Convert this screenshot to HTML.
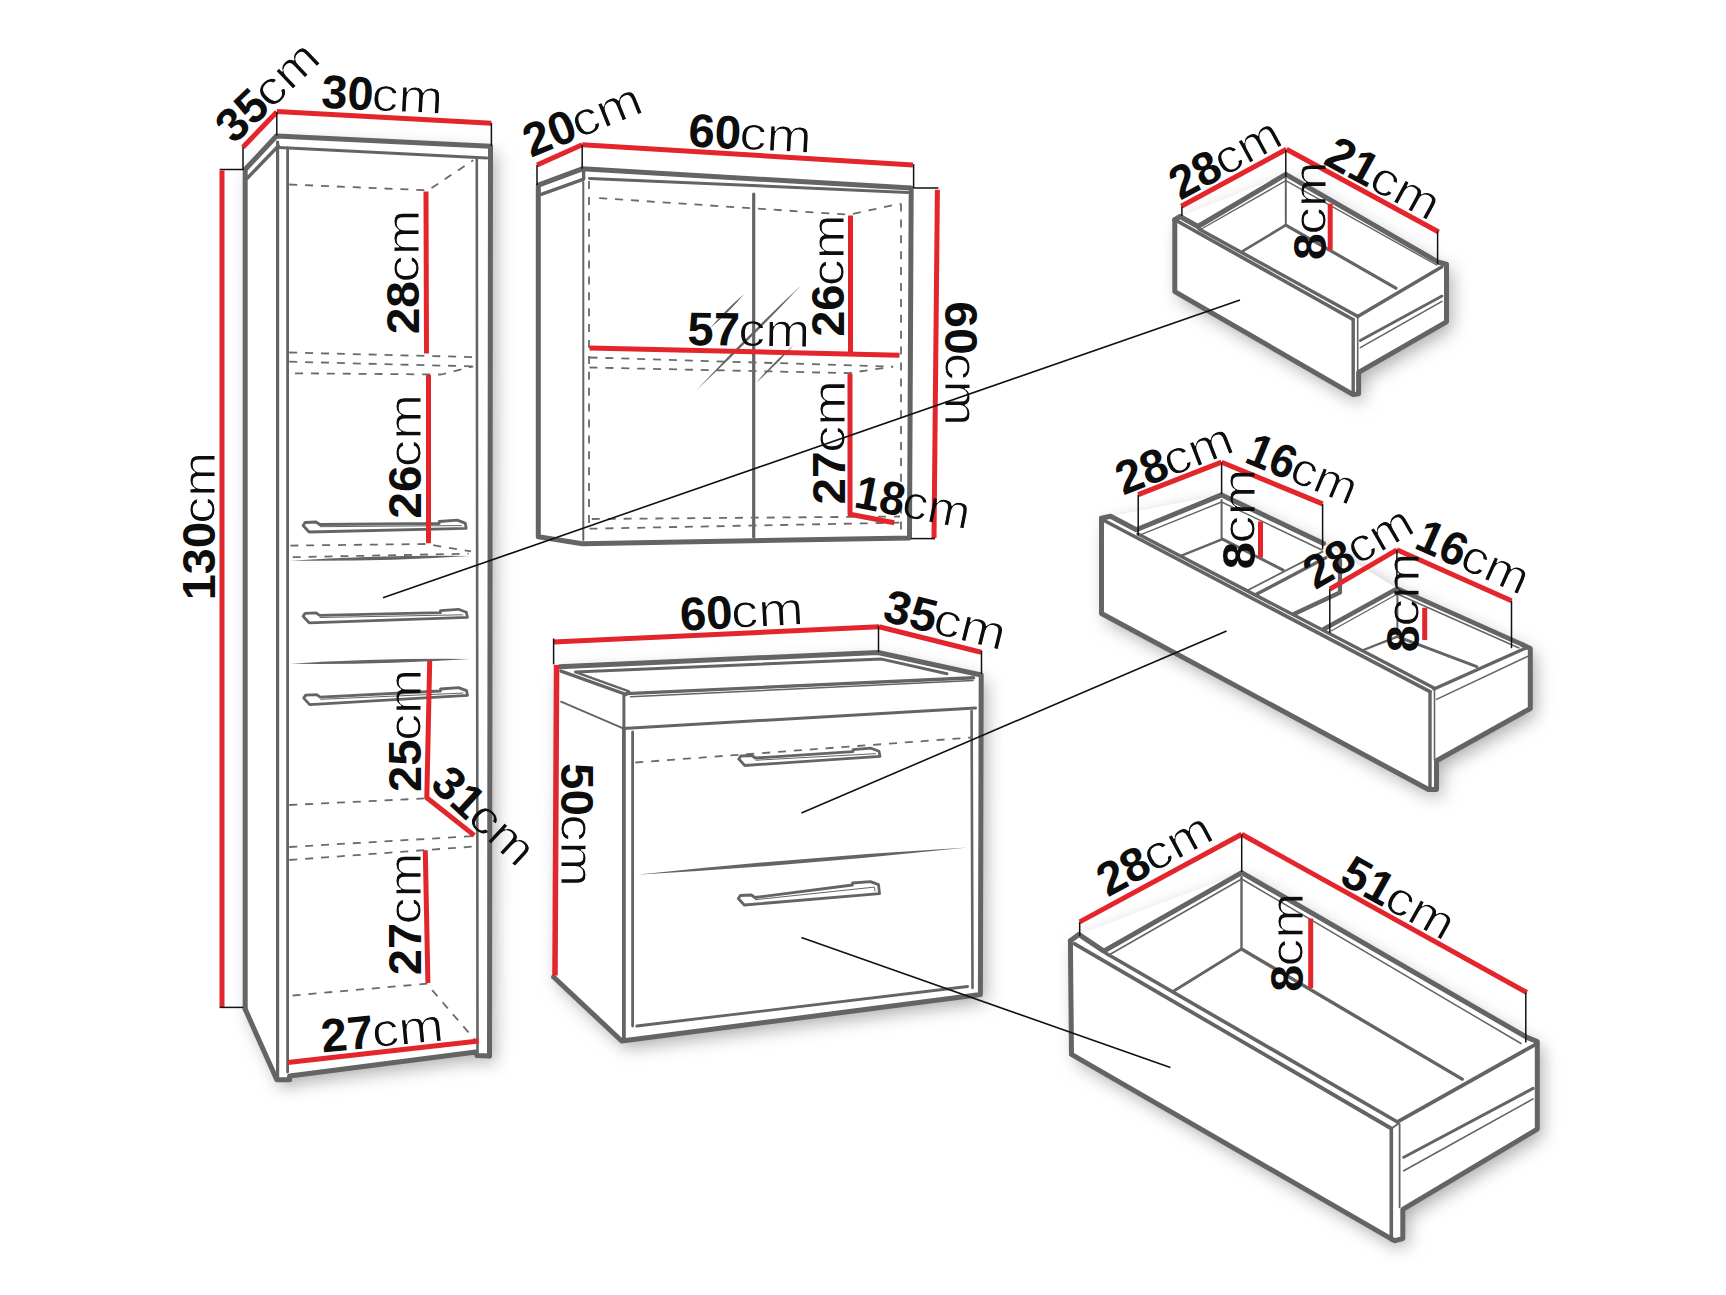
<!DOCTYPE html>
<html><head><meta charset="utf-8"><style>
html,body{margin:0;padding:0;background:#fff;}
svg{display:block;}
text{font-family:"Liberation Sans",sans-serif;}
</style></head><body>
<svg width="1726" height="1295" viewBox="0 0 1726 1295">
<defs><filter id="thin" x="-5%" y="-20%" width="110%" height="140%"><feMorphology operator="erode" radius="0.45"/></filter><filter id="sh" x="-20%" y="-20%" width="140%" height="140%"><feGaussianBlur stdDeviation="9"/><feOffset dx="5" dy="7"/></filter></defs>
<rect width="1726" height="1295" fill="#fff"/>
<g filter="url(#sh)" fill="#acacac">
<path d="M245.2,169.5 L276.4,136.0 L490.5,146.3 L489.5,1056.0 L477.0,1055.6 L475.8,1052.0 L289.6,1076.0 L289.6,1079.8 L276.8,1079.8 L245.3,1009.3 Z" fill="#acacac" />
<path d="M556.0,667.0 L878.0,652.5 L981.2,675.0 L980.4,994.6 L621.7,1041.0 L553.6,977.0 Z" fill="#acacac" />
<path d="M1174.8,219.7 L1180.1,216.5 L1285.8,174.4 L1438.5,262.3 L1446.5,264.1 L1446.5,321.8 L1358.6,372.4 L1358.6,393.8 L1353.2,394.6 L1174.8,291.6 Z" fill="#acacac" />
<path d="M1101.5,518.2 L1110.6,516.2 L1221.6,494.7 L1324.4,543.8 L1397.4,588.6 L1522.5,644.7 L1530.3,648.6 L1530.3,708.5 L1436.5,760.7 L1436.5,789.4 L1428.5,789.5 L1101.5,613.5 Z" fill="#acacac" />
<path d="M1070.4,940.7 L1078.8,934.4 L1241.7,872.6 L1526.8,1037.4 L1537.3,1041.5 L1537.3,1129.1 L1402.8,1209.4 L1402.8,1238.6 L1394.4,1240.7 L1071.5,1054.4 Z" fill="#acacac" />
</g>
<path d="M245.2,169.5 L276.4,136.0 L490.5,146.3 L489.5,1056.0 L477.0,1055.6 L475.8,1052.0 L289.6,1076.0 L289.6,1079.8 L276.8,1079.8 L245.3,1009.3 Z" fill="#fff" />
<path d="M556.0,667.0 L878.0,652.5 L981.2,675.0 L980.4,994.6 L621.7,1041.0 L553.6,977.0 Z" fill="#fff" />
<path d="M1174.8,219.7 L1180.1,216.5 L1285.8,174.4 L1438.5,262.3 L1446.5,264.1 L1446.5,321.8 L1358.6,372.4 L1358.6,393.8 L1353.2,394.6 L1174.8,291.6 Z" fill="#fff" />
<path d="M1101.5,518.2 L1110.6,516.2 L1221.6,494.7 L1324.4,543.8 L1397.4,588.6 L1522.5,644.7 L1530.3,648.6 L1530.3,708.5 L1436.5,760.7 L1436.5,789.4 L1428.5,789.5 L1101.5,613.5 Z" fill="#fff" />
<path d="M1070.4,940.7 L1078.8,934.4 L1241.7,872.6 L1526.8,1037.4 L1537.3,1041.5 L1537.3,1129.1 L1402.8,1209.4 L1402.8,1238.6 L1394.4,1240.7 L1071.5,1054.4 Z" fill="#fff" />
<path d="M245.2,1009.3 L245.2,169.5 L276.4,136.0 L490.5,146.3 L489.5,1056.0" fill="none" stroke="#646464" stroke-width="5" stroke-linecap="round" stroke-linejoin="round"/>
<path d="M245.3,1009.3 L276.8,1079.8 L289.6,1079.8 L289.6,1076.0 L475.8,1052.0 L477.0,1055.6 L489.5,1056.0" fill="none" stroke="#646464" stroke-width="5" stroke-linecap="round" stroke-linejoin="round"/>
<path d="M247.5,178.0 L278.3,146.0" fill="none" stroke="#646464" stroke-width="3.4" stroke-linecap="round" stroke-linejoin="round"/>
<path d="M278.8,147.5 L487.0,158.0" fill="none" stroke="#646464" stroke-width="3" stroke-linecap="round" stroke-linejoin="round"/>
<path d="M277.6,142.0 L277.6,1077.0" fill="none" stroke="#646464" stroke-width="3.2" stroke-linecap="round" stroke-linejoin="round"/>
<path d="M287.6,148.0 L287.6,1072.0" fill="none" stroke="#646464" stroke-width="2.8" stroke-linecap="round" stroke-linejoin="round"/>
<path d="M476.8,158.0 L477.5,1052.0" fill="none" stroke="#646464" stroke-width="2.6" stroke-linecap="round" stroke-linejoin="round"/>
<path d="M289.2,184.5 L428.2,190.3 L473.3,160.2" fill="none" stroke="#6a6a6a" stroke-width="1.8" stroke-linecap="butt" stroke-linejoin="round" stroke-dasharray="8 7.9"/>
<path d="M289.2,352.5 L473.3,357.1" fill="none" stroke="#6a6a6a" stroke-width="1.8" stroke-linecap="butt" stroke-linejoin="round" stroke-dasharray="8 7.9"/>
<path d="M289.2,361.7 L473.3,366.4" fill="none" stroke="#6a6a6a" stroke-width="1.8" stroke-linecap="butt" stroke-linejoin="round" stroke-dasharray="8 7.9"/>
<path d="M295.0,373.3 L441.0,374.5 L473.3,366.4" fill="none" stroke="#6a6a6a" stroke-width="1.8" stroke-linecap="butt" stroke-linejoin="round" stroke-dasharray="8 7.9"/>
<path d="M290.3,545.6 L425.8,544.0 L471.0,551.4" fill="none" stroke="#6a6a6a" stroke-width="1.8" stroke-linecap="butt" stroke-linejoin="round" stroke-dasharray="8 7.9"/>
<path d="M292.7,557.2 L468.7,553.7" fill="none" stroke="#6a6a6a" stroke-width="1.8" stroke-linecap="butt" stroke-linejoin="round" stroke-dasharray="8 7.9"/>
<path d="M290.3,560.7 Q380.2,561.7 469.9,556.0 Q380.0,555.0 290.3,560.7 Z" fill="#646464"/>
<path d="M290.3,663.8 Q380.2,664.8 469.9,659.0 Q380.0,658.0 290.3,663.8 Z" fill="#646464"/>
<path d="M289.3,805.0 L425.8,798.4" fill="none" stroke="#6a6a6a" stroke-width="1.8" stroke-linecap="butt" stroke-linejoin="round" stroke-dasharray="8 7.9"/>
<path d="M289.3,847.0 L475.7,836.0" fill="none" stroke="#6a6a6a" stroke-width="1.8" stroke-linecap="butt" stroke-linejoin="round" stroke-dasharray="8 7.9"/>
<path d="M289.3,860.0 L475.7,846.4" fill="none" stroke="#6a6a6a" stroke-width="1.8" stroke-linecap="butt" stroke-linejoin="round" stroke-dasharray="8 7.9"/>
<path d="M292.6,995.5 L426.6,983.7 L475.8,1040.9" fill="none" stroke="#6a6a6a" stroke-width="1.8" stroke-linecap="butt" stroke-linejoin="round" stroke-dasharray="8 7.9"/>
<path d="M303.1,525.5 L305.1,522.5 L316.1,522.0 L319.6,524.5 L439.2,523.5 L439.2,521.5 L457.2,520.1 L465.2,523.1 L466.2,528.3 L309.1,532.0 L303.1,525.5" fill="none" stroke="#646464" stroke-width="2.8" stroke-linecap="round" stroke-linejoin="round"/>
<path d="M320.1,526.7 L461.2,525.6 L461.7,525.8" fill="none" stroke="#646464" stroke-width="1.0" stroke-linecap="round" stroke-linejoin="round"/>
<path d="M303.1,616.3 L305.1,613.3 L316.1,612.8 L319.6,615.3 L440.4,612.7 L440.4,610.7 L458.4,609.3 L466.4,612.3 L467.4,617.4 L309.1,622.8 L303.1,616.3" fill="none" stroke="#646464" stroke-width="2.8" stroke-linecap="round" stroke-linejoin="round"/>
<path d="M320.1,617.5 L462.4,614.8 L462.9,614.9" fill="none" stroke="#646464" stroke-width="1.0" stroke-linecap="round" stroke-linejoin="round"/>
<path d="M303.7,698.1 L305.7,695.1 L316.7,694.6 L320.2,697.1 L440.5,691.0 L440.5,689.0 L458.5,687.6 L466.5,690.6 L467.5,695.4 L309.7,704.6 L303.7,698.1" fill="none" stroke="#646464" stroke-width="2.8" stroke-linecap="round" stroke-linejoin="round"/>
<path d="M320.7,699.3 L462.5,693.1 L463.0,692.9" fill="none" stroke="#646464" stroke-width="1.0" stroke-linecap="round" stroke-linejoin="round"/>
<path d="M222.0,170.5 L222.0,1007.4" fill="none" stroke="#e3252c" stroke-width="5" stroke-linecap="butt" stroke-linejoin="round"/>
<path d="M242.9,147.2 L276.8,112.0" fill="none" stroke="#e3252c" stroke-width="5" stroke-linecap="butt" stroke-linejoin="round"/>
<path d="M276.8,111.5 L491.4,123.2" fill="none" stroke="#e3252c" stroke-width="5" stroke-linecap="butt" stroke-linejoin="round"/>
<path d="M426.0,191.5 L426.5,353.6" fill="none" stroke="#e3252c" stroke-width="5" stroke-linecap="butt" stroke-linejoin="round"/>
<path d="M428.5,375.0 L428.5,543.3" fill="none" stroke="#e3252c" stroke-width="5" stroke-linecap="butt" stroke-linejoin="round"/>
<path d="M429.7,661.0 L426.8,797.8 L474.3,835.4" fill="none" stroke="#e3252c" stroke-width="5" stroke-linecap="butt" stroke-linejoin="round"/>
<path d="M425.3,850.3 L427.9,983.0" fill="none" stroke="#e3252c" stroke-width="5" stroke-linecap="butt" stroke-linejoin="round"/>
<path d="M287.7,1062.5 L478.8,1040.9" fill="none" stroke="#e3252c" stroke-width="5" stroke-linecap="butt" stroke-linejoin="round"/>
<path d="M219.7,169.5 L243.5,169.5" fill="none" stroke="#111" stroke-width="1.5" stroke-linecap="butt" stroke-linejoin="round"/>
<path d="M243.0,147.0 L243.0,169.5" fill="none" stroke="#111" stroke-width="1.5" stroke-linecap="butt" stroke-linejoin="round"/>
<path d="M276.8,112.0 L276.8,135.5" fill="none" stroke="#111" stroke-width="1.5" stroke-linecap="butt" stroke-linejoin="round"/>
<path d="M491.4,123.0 L491.4,146.0" fill="none" stroke="#111" stroke-width="1.5" stroke-linecap="butt" stroke-linejoin="round"/>
<path d="M219.7,1007.4 L243.3,1007.4" fill="none" stroke="#111" stroke-width="1.5" stroke-linecap="butt" stroke-linejoin="round"/>
<path d="M538.3,536.8 L538.3,185.2 L582.2,168.8 L911.2,188.0 L909.5,538.0 L582.5,543.8 L538.3,536.8" fill="none" stroke="#646464" stroke-width="5" stroke-linecap="round" stroke-linejoin="round"/>
<path d="M541.2,194.3 L583.7,179.1 L583.5,169.5" fill="none" stroke="#646464" stroke-width="3.4" stroke-linecap="round" stroke-linejoin="round"/>
<path d="M589.5,178.5 L908.0,192.4" fill="none" stroke="#646464" stroke-width="3" stroke-linecap="round" stroke-linejoin="round"/>
<path d="M583.3,182.0 L583.3,540.0" fill="none" stroke="#646464" stroke-width="2.0" stroke-linecap="round" stroke-linejoin="round"/>
<path d="M753.7,194.0 L753.7,537.0" fill="none" stroke="#646464" stroke-width="3.2" stroke-linecap="round" stroke-linejoin="round"/>
<path d="M589.0,181.0 L589.0,530.0" fill="none" stroke="#6a6a6a" stroke-width="1.8" stroke-linecap="butt" stroke-linejoin="round" stroke-dasharray="8 7.9"/>
<path d="M901.0,203.5 L901.0,533.0" fill="none" stroke="#6a6a6a" stroke-width="1.8" stroke-linecap="butt" stroke-linejoin="round" stroke-dasharray="8 7.9"/>
<path d="M599.2,198.1 L848.6,214.7 L900.5,203.6" fill="none" stroke="#6a6a6a" stroke-width="1.8" stroke-linecap="butt" stroke-linejoin="round" stroke-dasharray="8 7.9"/>
<path d="M589.5,357.5 L893.1,366.6" fill="none" stroke="#6a6a6a" stroke-width="1.8" stroke-linecap="butt" stroke-linejoin="round" stroke-dasharray="8 7.9"/>
<path d="M589.5,367.5 L848.6,373.1 L893.1,366.6" fill="none" stroke="#6a6a6a" stroke-width="1.8" stroke-linecap="butt" stroke-linejoin="round" stroke-dasharray="8 7.9"/>
<path d="M591.8,519.0 L900.0,516.5" fill="none" stroke="#6a6a6a" stroke-width="1.8" stroke-linecap="butt" stroke-linejoin="round" stroke-dasharray="8 7.9"/>
<path d="M589.5,528.7 L899.3,522.7" fill="none" stroke="#6a6a6a" stroke-width="1.8" stroke-linecap="butt" stroke-linejoin="round" stroke-dasharray="8 7.9"/>
<path d="M710.1,328.2 Q728.7,312.7 744.2,294.1 Q725.6,309.6 710.1,328.2 Z" fill="#646464"/>
<path d="M696.1,390.4 Q750.6,339.6 801.4,285.1 Q746.9,335.9 696.1,390.4 Z" fill="#646464"/>
<path d="M756.3,382.4 Q776.9,364.9 794.4,344.3 Q773.8,361.8 756.3,382.4 Z" fill="#646464"/>
<path d="M537.0,165.0 L582.2,144.7" fill="none" stroke="#e3252c" stroke-width="5" stroke-linecap="butt" stroke-linejoin="round"/>
<path d="M582.2,144.7 L912.9,164.9" fill="none" stroke="#e3252c" stroke-width="5" stroke-linecap="butt" stroke-linejoin="round"/>
<path d="M937.4,189.7 L934.0,538.0" fill="none" stroke="#e3252c" stroke-width="5" stroke-linecap="butt" stroke-linejoin="round"/>
<path d="M850.5,215.5 L850.5,353.8" fill="none" stroke="#e3252c" stroke-width="5" stroke-linecap="butt" stroke-linejoin="round"/>
<path d="M589.5,348.0 L899.5,355.3" fill="none" stroke="#e3252c" stroke-width="5" stroke-linecap="butt" stroke-linejoin="round"/>
<path d="M850.0,373.5 L850.0,514.2 L894.2,522.7" fill="none" stroke="#e3252c" stroke-width="5" stroke-linecap="butt" stroke-linejoin="round"/>
<path d="M582.2,144.7 L582.2,168.8" fill="none" stroke="#111" stroke-width="1.5" stroke-linecap="butt" stroke-linejoin="round"/>
<path d="M537.0,165.0 L537.0,185.2" fill="none" stroke="#111" stroke-width="1.5" stroke-linecap="butt" stroke-linejoin="round"/>
<path d="M913.6,164.2 L913.6,188.0" fill="none" stroke="#111" stroke-width="1.5" stroke-linecap="butt" stroke-linejoin="round"/>
<path d="M913.6,188.0 L938.4,188.0" fill="none" stroke="#111" stroke-width="1.5" stroke-linecap="butt" stroke-linejoin="round"/>
<path d="M911.2,538.6 L935.0,538.6" fill="none" stroke="#111" stroke-width="1.5" stroke-linecap="butt" stroke-linejoin="round"/>
<path d="M559.5,666.8 L878.0,652.5 L981.2,675.0 L980.4,994.6 L621.7,1041.0 L553.6,977.0" fill="none" stroke="#646464" stroke-width="5" stroke-linecap="round" stroke-linejoin="round"/>
<path d="M575.4,671.9 L881.7,659.1 L947.0,673.7" fill="none" stroke="#646464" stroke-width="3" stroke-linecap="round" stroke-linejoin="round"/>
<path d="M561.0,671.1 L626.1,694.5" fill="none" stroke="#646464" stroke-width="3.4" stroke-linecap="round" stroke-linejoin="round"/>
<path d="M576.9,672.6 L629.0,691.4" fill="none" stroke="#646464" stroke-width="2.6" stroke-linecap="round" stroke-linejoin="round"/>
<path d="M626.1,693.6 L973.5,677.8" fill="none" stroke="#646464" stroke-width="3.4" stroke-linecap="round" stroke-linejoin="round"/>
<path d="M630.5,696.8 L973.0,680.5" fill="none" stroke="#646464" stroke-width="1.6" stroke-linecap="round" stroke-linejoin="round"/>
<path d="M623.9,695.0 L623.9,727.0" fill="none" stroke="#646464" stroke-width="3" stroke-linecap="round" stroke-linejoin="round"/>
<path d="M623.2,728.4 L975.5,708.1" fill="none" stroke="#646464" stroke-width="3" stroke-linecap="round" stroke-linejoin="round"/>
<path d="M561.0,701.6 L623.2,728.4" fill="none" stroke="#646464" stroke-width="1.8" stroke-linecap="round" stroke-linejoin="round"/>
<path d="M623.9,728.0 L623.9,1039.0" fill="none" stroke="#646464" stroke-width="3.8" stroke-linecap="round" stroke-linejoin="round"/>
<path d="M632.6,732.0 L632.6,1026.0" fill="none" stroke="#646464" stroke-width="2.8" stroke-linecap="round" stroke-linejoin="round"/>
<path d="M971.6,711.0 L972.5,988.0" fill="none" stroke="#646464" stroke-width="2.6" stroke-linecap="round" stroke-linejoin="round"/>
<path d="M636.7,1026.0 L967.6,986.5" fill="none" stroke="#646464" stroke-width="2.8" stroke-linecap="round" stroke-linejoin="round"/>
<path d="M636.7,874.8 Q802.5,865.4 967.6,847.6 Q801.8,857.0 636.7,874.8 Z" fill="#646464"/>
<path d="M635.3,762.5 L973.0,737.4" fill="none" stroke="#6a6a6a" stroke-width="1.8" stroke-linecap="butt" stroke-linejoin="round" stroke-dasharray="8 7.9"/>
<path d="M738.8,759.0 L740.8,756.0 L751.8,755.5 L755.3,758.0 L853.0,751.6 L853.0,749.6 L871.0,748.2 L879.0,751.2 L880.0,756.3 L744.8,765.5 L738.8,759.0" fill="none" stroke="#646464" stroke-width="2.8" stroke-linecap="round" stroke-linejoin="round"/>
<path d="M755.8,760.2 L875.0,753.7 L875.5,753.8" fill="none" stroke="#646464" stroke-width="1.0" stroke-linecap="round" stroke-linejoin="round"/>
<path d="M738.3,898.5 L740.3,895.5 L751.3,895.0 L754.8,897.5 L852.5,885.0 L852.5,883.0 L870.5,881.6 L878.5,884.6 L879.5,893.6 L744.3,905.0 L738.3,898.5" fill="none" stroke="#646464" stroke-width="2.8" stroke-linecap="round" stroke-linejoin="round"/>
<path d="M755.3,899.7 L874.5,887.1 L875.0,891.1" fill="none" stroke="#646464" stroke-width="1.0" stroke-linecap="round" stroke-linejoin="round"/>
<path d="M553.6,642.1 L879.0,626.8" fill="none" stroke="#e3252c" stroke-width="5" stroke-linecap="butt" stroke-linejoin="round"/>
<path d="M879.0,626.8 L981.2,652.2" fill="none" stroke="#e3252c" stroke-width="5" stroke-linecap="butt" stroke-linejoin="round"/>
<path d="M556.6,665.0 L555.0,975.6" fill="none" stroke="#e3252c" stroke-width="5.5" stroke-linecap="butt" stroke-linejoin="round"/>
<path d="M553.6,638.5 L553.6,664.4" fill="none" stroke="#111" stroke-width="1.5" stroke-linecap="butt" stroke-linejoin="round"/>
<path d="M878.5,626.0 L878.5,652.2" fill="none" stroke="#111" stroke-width="1.5" stroke-linecap="butt" stroke-linejoin="round"/>
<path d="M981.5,650.8 L981.5,674.0" fill="none" stroke="#111" stroke-width="1.5" stroke-linecap="butt" stroke-linejoin="round"/>
<path d="M1174.8,219.7 L1174.8,291.6 L1353.2,394.6 L1358.6,393.8 L1358.6,372.4 L1446.5,321.8 L1446.5,264.1 L1438.5,262.3" fill="none" stroke="#646464" stroke-width="5" stroke-linecap="round" stroke-linejoin="round"/>
<path d="M1174.8,219.7 L1180.1,216.5 L1197.9,226.5 L1285.8,174.4 L1438.5,262.3" fill="none" stroke="#646464" stroke-width="5" stroke-linecap="round" stroke-linejoin="round"/>
<path d="M1200.5,229.5 L1285.8,180.7 L1436.7,265.0" fill="none" stroke="#646464" stroke-width="1.4" stroke-linecap="round" stroke-linejoin="round"/>
<path d="M1178.0,221.5 L1353.0,319.5" fill="none" stroke="#646464" stroke-width="3.6" stroke-linecap="round" stroke-linejoin="round"/>
<path d="M1199.0,229.0 L1358.0,316.5" fill="none" stroke="#646464" stroke-width="3.4" stroke-linecap="round" stroke-linejoin="round"/>
<path d="M1353.2,319.5 L1353.2,393.0" fill="none" stroke="#646464" stroke-width="3.4" stroke-linecap="round" stroke-linejoin="round"/>
<path d="M1357.7,317.4 L1357.7,372.4" fill="none" stroke="#646464" stroke-width="1.6" stroke-linecap="round" stroke-linejoin="round"/>
<path d="M1357.7,316.5 L1442.0,266.8" fill="none" stroke="#646464" stroke-width="3.4" stroke-linecap="round" stroke-linejoin="round"/>
<path d="M1360.3,340.5 L1442.0,296.1" fill="none" stroke="#646464" stroke-width="2.8" stroke-linecap="round" stroke-linejoin="round"/>
<path d="M1360.3,347.6 L1442.0,301.4" fill="none" stroke="#646464" stroke-width="1.6" stroke-linecap="round" stroke-linejoin="round"/>
<path d="M1243.1,250.8 L1285.8,225.1" fill="none" stroke="#646464" stroke-width="2.6" stroke-linecap="round" stroke-linejoin="round"/>
<path d="M1285.8,225.1 L1395.9,288.1" fill="none" stroke="#646464" stroke-width="3.2" stroke-linecap="round" stroke-linejoin="round"/>
<path d="M1285.8,178.0 L1285.8,223.3" fill="none" stroke="#646464" stroke-width="2" stroke-linecap="round" stroke-linejoin="round"/>
<path d="M1181.3,206.3 L1286.5,149.2" fill="none" stroke="#e3252c" stroke-width="5" stroke-linecap="butt" stroke-linejoin="round"/>
<path d="M1286.5,149.2 L1438.7,232.0" fill="none" stroke="#e3252c" stroke-width="5" stroke-linecap="butt" stroke-linejoin="round"/>
<path d="M1330.2,203.7 L1330.2,249.9" fill="none" stroke="#e3252c" stroke-width="5" stroke-linecap="butt" stroke-linejoin="round"/>
<path d="M1181.9,206.4 L1181.9,216.0" fill="none" stroke="#111" stroke-width="1.5" stroke-linecap="butt" stroke-linejoin="round"/>
<path d="M1285.8,150.0 L1285.8,177.0" fill="none" stroke="#111" stroke-width="1.5" stroke-linecap="butt" stroke-linejoin="round"/>
<path d="M1437.6,231.3 L1437.6,264.0" fill="none" stroke="#111" stroke-width="1.5" stroke-linecap="butt" stroke-linejoin="round"/>
<path d="M1101.5,518.2 L1101.5,613.5 L1428.5,789.5 L1436.5,789.4 L1436.5,760.7 L1530.3,708.5 L1530.3,648.6 L1522.5,644.7" fill="none" stroke="#646464" stroke-width="5" stroke-linecap="round" stroke-linejoin="round"/>
<path d="M1101.5,518.2 L1110.6,516.2 L1136.3,529.7 L1221.6,494.9 L1323.6,543.5" fill="none" stroke="#646464" stroke-width="5" stroke-linecap="round" stroke-linejoin="round"/>
<path d="M1139.1,535.4 L1221.6,502.0 L1322.0,550.0" fill="none" stroke="#646464" stroke-width="1.4" stroke-linecap="round" stroke-linejoin="round"/>
<path d="M1105.0,521.0 L1430.0,691.6" fill="none" stroke="#646464" stroke-width="3.6" stroke-linecap="round" stroke-linejoin="round"/>
<path d="M1138.0,534.0 L1434.0,688.0" fill="none" stroke="#646464" stroke-width="3.4" stroke-linecap="round" stroke-linejoin="round"/>
<path d="M1430.0,691.6 L1430.0,790.0" fill="none" stroke="#646464" stroke-width="3.4" stroke-linecap="round" stroke-linejoin="round"/>
<path d="M1434.5,690.0 L1434.5,760.0" fill="none" stroke="#646464" stroke-width="1.6" stroke-linecap="round" stroke-linejoin="round"/>
<path d="M1434.0,689.0 L1526.0,648.0" fill="none" stroke="#646464" stroke-width="3.4" stroke-linecap="round" stroke-linejoin="round"/>
<path d="M1436.5,699.4 L1527.7,656.4" fill="none" stroke="#646464" stroke-width="1.6" stroke-linecap="round" stroke-linejoin="round"/>
<path d="M1180.8,555.8 L1222.5,539.1" fill="none" stroke="#646464" stroke-width="2.4" stroke-linecap="round" stroke-linejoin="round"/>
<path d="M1222.5,539.1 L1283.2,570.1" fill="none" stroke="#646464" stroke-width="3" stroke-linecap="round" stroke-linejoin="round"/>
<path d="M1221.6,500.0 L1221.6,539.0" fill="none" stroke="#646464" stroke-width="2" stroke-linecap="round" stroke-linejoin="round"/>
<path d="M1247.7,590.2 L1322.6,551.6" fill="none" stroke="#646464" stroke-width="1.8" stroke-linecap="round" stroke-linejoin="round"/>
<path d="M1255.4,594.8 L1325.7,557.8" fill="none" stroke="#646464" stroke-width="3.4" stroke-linecap="round" stroke-linejoin="round"/>
<path d="M1294.0,614.0 L1340.0,592.5 L1340.0,560.0" fill="none" stroke="#646464" stroke-width="4.2" stroke-linecap="round" stroke-linejoin="round"/>
<path d="M1324.0,629.0 L1397.4,588.6 L1522.5,644.7" fill="none" stroke="#646464" stroke-width="4.6" stroke-linecap="round" stroke-linejoin="round"/>
<path d="M1331.0,631.0 L1397.4,594.0 L1519.0,648.0" fill="none" stroke="#646464" stroke-width="1.4" stroke-linecap="round" stroke-linejoin="round"/>
<path d="M1362.2,650.5 L1397.4,636.6" fill="none" stroke="#646464" stroke-width="2.4" stroke-linecap="round" stroke-linejoin="round"/>
<path d="M1397.4,636.6 L1476.8,666.7" fill="none" stroke="#646464" stroke-width="3" stroke-linecap="round" stroke-linejoin="round"/>
<path d="M1397.4,594.0 L1397.4,636.0" fill="none" stroke="#646464" stroke-width="2" stroke-linecap="round" stroke-linejoin="round"/>
<path d="M1138.2,494.7 L1221.6,462.2" fill="none" stroke="#e3252c" stroke-width="5" stroke-linecap="butt" stroke-linejoin="round"/>
<path d="M1221.6,462.2 L1322.6,503.9" fill="none" stroke="#e3252c" stroke-width="5" stroke-linecap="butt" stroke-linejoin="round"/>
<path d="M1260.5,521.5 L1260.5,557.7" fill="none" stroke="#e3252c" stroke-width="5" stroke-linecap="butt" stroke-linejoin="round"/>
<path d="M1329.8,589.1 L1396.9,549.8" fill="none" stroke="#e3252c" stroke-width="5" stroke-linecap="butt" stroke-linejoin="round"/>
<path d="M1396.9,549.8 L1511.5,600.7" fill="none" stroke="#e3252c" stroke-width="5" stroke-linecap="butt" stroke-linejoin="round"/>
<path d="M1424.7,607.7 L1424.7,640.1" fill="none" stroke="#e3252c" stroke-width="5" stroke-linecap="butt" stroke-linejoin="round"/>
<path d="M1138.2,494.7 L1138.2,535.4" fill="none" stroke="#111" stroke-width="1.5" stroke-linecap="butt" stroke-linejoin="round"/>
<path d="M1221.6,462.2 L1221.6,494.0" fill="none" stroke="#111" stroke-width="1.5" stroke-linecap="butt" stroke-linejoin="round"/>
<path d="M1322.6,503.9 L1322.6,549.3" fill="none" stroke="#111" stroke-width="1.5" stroke-linecap="butt" stroke-linejoin="round"/>
<path d="M1329.8,589.1 L1329.8,633.1" fill="none" stroke="#111" stroke-width="1.5" stroke-linecap="butt" stroke-linejoin="round"/>
<path d="M1396.9,549.8 L1396.9,588.0" fill="none" stroke="#111" stroke-width="1.5" stroke-linecap="butt" stroke-linejoin="round"/>
<path d="M1511.5,600.7 L1511.5,648.2" fill="none" stroke="#111" stroke-width="1.5" stroke-linecap="butt" stroke-linejoin="round"/>
<path d="M1070.4,940.7 L1071.5,1054.4 L1394.4,1240.7 L1402.8,1238.6 L1402.8,1209.4 L1537.3,1129.1 L1537.3,1041.5 L1526.8,1037.4" fill="none" stroke="#646464" stroke-width="5" stroke-linecap="round" stroke-linejoin="round"/>
<path d="M1070.4,940.7 L1078.8,934.4 L1103.8,951.1 L1241.7,872.6 L1526.8,1037.4" fill="none" stroke="#646464" stroke-width="5" stroke-linecap="round" stroke-linejoin="round"/>
<path d="M1108.0,955.5 L1241.7,879.0 L1521.0,1043.5" fill="none" stroke="#646464" stroke-width="1.5" stroke-linecap="round" stroke-linejoin="round"/>
<path d="M1074.6,943.8 L1391.3,1128.5" fill="none" stroke="#646464" stroke-width="3.8" stroke-linecap="round" stroke-linejoin="round"/>
<path d="M1105.9,953.2 L1397.5,1122.0" fill="none" stroke="#646464" stroke-width="3.6" stroke-linecap="round" stroke-linejoin="round"/>
<path d="M1391.3,1128.5 L1391.3,1240.0" fill="none" stroke="#646464" stroke-width="3.6" stroke-linecap="round" stroke-linejoin="round"/>
<path d="M1399.6,1124.0 L1399.6,1207.3" fill="none" stroke="#646464" stroke-width="1.8" stroke-linecap="round" stroke-linejoin="round"/>
<path d="M1391.3,1128.5 L1398.0,1124.0" fill="none" stroke="#646464" stroke-width="2" stroke-linecap="round" stroke-linejoin="round"/>
<path d="M1397.5,1121.8 L1535.2,1044.6" fill="none" stroke="#646464" stroke-width="3.8" stroke-linecap="round" stroke-linejoin="round"/>
<path d="M1403.8,1157.3 L1533.1,1088.4" fill="none" stroke="#646464" stroke-width="3" stroke-linecap="round" stroke-linejoin="round"/>
<path d="M1403.8,1170.8 L1533.1,1098.9" fill="none" stroke="#646464" stroke-width="1.6" stroke-linecap="round" stroke-linejoin="round"/>
<path d="M1172.6,991.8 L1241.5,949.0" fill="none" stroke="#646464" stroke-width="2.8" stroke-linecap="round" stroke-linejoin="round"/>
<path d="M1241.5,949.0 L1462.2,1079.1" fill="none" stroke="#646464" stroke-width="3.4" stroke-linecap="round" stroke-linejoin="round"/>
<path d="M1241.5,877.0 L1241.5,947.0" fill="none" stroke="#646464" stroke-width="2.4" stroke-linecap="round" stroke-linejoin="round"/>
<path d="M1079.7,921.9 L1241.7,834.3" fill="none" stroke="#e3252c" stroke-width="5" stroke-linecap="butt" stroke-linejoin="round"/>
<path d="M1241.7,834.3 L1526.8,992.5" fill="none" stroke="#e3252c" stroke-width="5" stroke-linecap="butt" stroke-linejoin="round"/>
<path d="M1310.7,918.5 L1310.7,988.1" fill="none" stroke="#e3252c" stroke-width="5" stroke-linecap="butt" stroke-linejoin="round"/>
<path d="M1079.7,921.9 L1079.7,936.0" fill="none" stroke="#111" stroke-width="1.5" stroke-linecap="butt" stroke-linejoin="round"/>
<path d="M1241.7,834.3 L1241.7,872.0" fill="none" stroke="#111" stroke-width="1.5" stroke-linecap="butt" stroke-linejoin="round"/>
<path d="M1525.8,992.5 L1525.8,1042.6" fill="none" stroke="#111" stroke-width="1.5" stroke-linecap="butt" stroke-linejoin="round"/>
<path d="M383.0,597.7 L1240.0,300.0" fill="none" stroke="#111" stroke-width="1.6" stroke-linecap="butt" stroke-linejoin="round"/>
<path d="M801.4,813.0 L1226.6,630.9" fill="none" stroke="#111" stroke-width="1.6" stroke-linecap="butt" stroke-linejoin="round"/>
<path d="M801.4,937.4 L1170.4,1067.6" fill="none" stroke="#111" stroke-width="1.6" stroke-linecap="butt" stroke-linejoin="round"/>
<g transform="translate(267.00,91.00) rotate(-43.5)" fill="#0d0d0d"><mask id="m43961269" maskUnits="userSpaceOnUse" x="-200" y="-200" width="400" height="400"><text x="-10.62" y="16.45" font-size="47.00" textLength="71.76" lengthAdjust="spacingAndGlyphs" fill="#fff" stroke="#000" stroke-width="1.0">cm</text></mask><text x="-61.14" y="16.45" font-size="47.00" font-weight="bold" textLength="52.16" lengthAdjust="spacingAndGlyphs">35</text><text x="-10.62" y="16.45" font-size="47.00" textLength="71.76" lengthAdjust="spacingAndGlyphs" mask="url(#m43961269)">cm</text></g>
<g transform="translate(382.50,94.30) rotate(3.0)" fill="#0d0d0d"><mask id="m82617625" maskUnits="userSpaceOnUse" x="-200" y="-200" width="400" height="400"><text x="-10.58" y="16.45" font-size="47.00" textLength="71.50" lengthAdjust="spacingAndGlyphs" fill="#fff" stroke="#000" stroke-width="1.0">cm</text></mask><text x="-60.92" y="16.45" font-size="47.00" font-weight="bold" textLength="51.97" lengthAdjust="spacingAndGlyphs">30</text><text x="-10.58" y="16.45" font-size="47.00" textLength="71.50" lengthAdjust="spacingAndGlyphs" mask="url(#m82617625)">cm</text></g>
<g transform="translate(198.20,526.10) rotate(-90)" fill="#0d0d0d"><mask id="m12440823" maskUnits="userSpaceOnUse" x="-200" y="-200" width="400" height="400"><text x="2.41" y="16.45" font-size="47.00" textLength="71.72" lengthAdjust="spacingAndGlyphs" fill="#fff" stroke="#000" stroke-width="1.0">cm</text></mask><text x="-74.14" y="16.45" font-size="47.00" font-weight="bold" textLength="78.19" lengthAdjust="spacingAndGlyphs">130</text><text x="2.41" y="16.45" font-size="47.00" textLength="71.72" lengthAdjust="spacingAndGlyphs" mask="url(#m12440823)">cm</text></g>
<g transform="translate(402.50,271.90) rotate(-90)" fill="#0d0d0d"><mask id="m35027921" maskUnits="userSpaceOnUse" x="-200" y="-200" width="400" height="400"><text x="-10.84" y="16.45" font-size="47.00" textLength="73.24" lengthAdjust="spacingAndGlyphs" fill="#fff" stroke="#000" stroke-width="1.0">cm</text></mask><text x="-62.40" y="16.45" font-size="47.00" font-weight="bold" textLength="53.23" lengthAdjust="spacingAndGlyphs">28</text><text x="-10.84" y="16.45" font-size="47.00" textLength="73.24" lengthAdjust="spacingAndGlyphs" mask="url(#m35027921)">cm</text></g>
<g transform="translate(404.40,456.30) rotate(-90)" fill="#0d0d0d"><mask id="m31193028" maskUnits="userSpaceOnUse" x="-200" y="-200" width="400" height="400"><text x="-10.84" y="16.45" font-size="47.00" textLength="73.21" lengthAdjust="spacingAndGlyphs" fill="#fff" stroke="#000" stroke-width="1.0">cm</text></mask><text x="-62.37" y="16.45" font-size="47.00" font-weight="bold" textLength="53.21" lengthAdjust="spacingAndGlyphs">26</text><text x="-10.84" y="16.45" font-size="47.00" textLength="73.21" lengthAdjust="spacingAndGlyphs" mask="url(#m31193028)">cm</text></g>
<g transform="translate(404.70,730.40) rotate(-90)" fill="#0d0d0d"><mask id="m16998884" maskUnits="userSpaceOnUse" x="-200" y="-200" width="400" height="400"><text x="-10.70" y="16.45" font-size="47.00" textLength="72.30" lengthAdjust="spacingAndGlyphs" fill="#fff" stroke="#000" stroke-width="1.0">cm</text></mask><text x="-61.59" y="16.45" font-size="47.00" font-weight="bold" textLength="52.55" lengthAdjust="spacingAndGlyphs">25</text><text x="-10.70" y="16.45" font-size="47.00" textLength="72.30" lengthAdjust="spacingAndGlyphs" mask="url(#m16998884)">cm</text></g>
<g transform="translate(484.40,815.50) rotate(43)" fill="#0d0d0d"><mask id="m72860028" maskUnits="userSpaceOnUse" x="-200" y="-200" width="400" height="400"><text x="-10.55" y="16.45" font-size="47.00" textLength="71.26" lengthAdjust="spacingAndGlyphs" fill="#fff" stroke="#000" stroke-width="1.0">cm</text></mask><text x="-60.71" y="16.45" font-size="47.00" font-weight="bold" textLength="51.79" lengthAdjust="spacingAndGlyphs">31</text><text x="-10.55" y="16.45" font-size="47.00" textLength="71.26" lengthAdjust="spacingAndGlyphs" mask="url(#m72860028)">cm</text></g>
<g transform="translate(404.50,913.90) rotate(-90)" fill="#0d0d0d"><mask id="m98801662" maskUnits="userSpaceOnUse" x="-200" y="-200" width="400" height="400"><text x="-10.66" y="16.45" font-size="47.00" textLength="72.02" lengthAdjust="spacingAndGlyphs" fill="#fff" stroke="#000" stroke-width="1.0">cm</text></mask><text x="-61.36" y="16.45" font-size="47.00" font-weight="bold" textLength="52.34" lengthAdjust="spacingAndGlyphs">27</text><text x="-10.66" y="16.45" font-size="47.00" textLength="72.02" lengthAdjust="spacingAndGlyphs" mask="url(#m98801662)">cm</text></g>
<g transform="translate(382.20,1030.20) rotate(-5.5)" fill="#0d0d0d"><mask id="m73046262" maskUnits="userSpaceOnUse" x="-200" y="-200" width="400" height="400"><text x="-10.68" y="16.45" font-size="47.00" textLength="72.11" lengthAdjust="spacingAndGlyphs" fill="#fff" stroke="#000" stroke-width="1.0">cm</text></mask><text x="-61.44" y="16.45" font-size="47.00" font-weight="bold" textLength="52.41" lengthAdjust="spacingAndGlyphs">27</text><text x="-10.68" y="16.45" font-size="47.00" textLength="72.11" lengthAdjust="spacingAndGlyphs" mask="url(#m73046262)">cm</text></g>
<g transform="translate(582.00,119.40) rotate(-22)" fill="#0d0d0d"><mask id="m11024305" maskUnits="userSpaceOnUse" x="-200" y="-200" width="400" height="400"><text x="-10.72" y="16.45" font-size="47.00" textLength="72.38" lengthAdjust="spacingAndGlyphs" fill="#fff" stroke="#000" stroke-width="1.0">cm</text></mask><text x="-61.67" y="16.45" font-size="47.00" font-weight="bold" textLength="52.61" lengthAdjust="spacingAndGlyphs">20</text><text x="-10.72" y="16.45" font-size="47.00" textLength="72.38" lengthAdjust="spacingAndGlyphs" mask="url(#m11024305)">cm</text></g>
<g transform="translate(750.20,133.10) rotate(3.0)" fill="#0d0d0d"><mask id="m5854301" maskUnits="userSpaceOnUse" x="-200" y="-200" width="400" height="400"><text x="-10.72" y="16.45" font-size="47.00" textLength="72.42" lengthAdjust="spacingAndGlyphs" fill="#fff" stroke="#000" stroke-width="1.0">cm</text></mask><text x="-61.70" y="16.45" font-size="47.00" font-weight="bold" textLength="52.64" lengthAdjust="spacingAndGlyphs">60</text><text x="-10.72" y="16.45" font-size="47.00" textLength="72.42" lengthAdjust="spacingAndGlyphs" mask="url(#m5854301)">cm</text></g>
<g transform="translate(748.90,329.50) rotate(1.0)" fill="#0d0d0d"><mask id="m79523549" maskUnits="userSpaceOnUse" x="-200" y="-200" width="400" height="400"><text x="-10.66" y="16.45" font-size="47.00" textLength="72.02" lengthAdjust="spacingAndGlyphs" fill="#fff" stroke="#000" stroke-width="1.0">cm</text></mask><text x="-61.35" y="16.45" font-size="47.00" font-weight="bold" textLength="52.34" lengthAdjust="spacingAndGlyphs">57</text><text x="-10.66" y="16.45" font-size="47.00" textLength="72.02" lengthAdjust="spacingAndGlyphs" mask="url(#m79523549)">cm</text></g>
<g transform="translate(827.80,275.50) rotate(-90)" fill="#0d0d0d"><mask id="m51230098" maskUnits="userSpaceOnUse" x="-200" y="-200" width="400" height="400"><text x="-10.66" y="16.45" font-size="47.00" textLength="72.01" lengthAdjust="spacingAndGlyphs" fill="#fff" stroke="#000" stroke-width="1.0">cm</text></mask><text x="-61.35" y="16.45" font-size="47.00" font-weight="bold" textLength="52.34" lengthAdjust="spacingAndGlyphs">26</text><text x="-10.66" y="16.45" font-size="47.00" textLength="72.01" lengthAdjust="spacingAndGlyphs" mask="url(#m51230098)">cm</text></g>
<g transform="translate(828.80,442.30) rotate(-90)" fill="#0d0d0d"><mask id="m91538713" maskUnits="userSpaceOnUse" x="-200" y="-200" width="400" height="400"><text x="-10.80" y="16.45" font-size="47.00" textLength="72.93" lengthAdjust="spacingAndGlyphs" fill="#fff" stroke="#000" stroke-width="1.0">cm</text></mask><text x="-62.14" y="16.45" font-size="47.00" font-weight="bold" textLength="53.01" lengthAdjust="spacingAndGlyphs">27</text><text x="-10.80" y="16.45" font-size="47.00" textLength="72.93" lengthAdjust="spacingAndGlyphs" mask="url(#m91538713)">cm</text></g>
<g transform="translate(961.00,363.70) rotate(90)" fill="#0d0d0d"><mask id="m26451074" maskUnits="userSpaceOnUse" x="-200" y="-200" width="400" height="400"><text x="-10.84" y="16.45" font-size="47.00" textLength="73.24" lengthAdjust="spacingAndGlyphs" fill="#fff" stroke="#000" stroke-width="1.0">cm</text></mask><text x="-62.40" y="16.45" font-size="47.00" font-weight="bold" textLength="53.23" lengthAdjust="spacingAndGlyphs">60</text><text x="-10.84" y="16.45" font-size="47.00" textLength="73.24" lengthAdjust="spacingAndGlyphs" mask="url(#m26451074)">cm</text></g>
<g transform="translate(913.20,502.10) rotate(11)" fill="#0d0d0d"><mask id="m20302023" maskUnits="userSpaceOnUse" x="-200" y="-200" width="400" height="400"><text x="-10.15" y="16.45" font-size="47.00" textLength="68.54" lengthAdjust="spacingAndGlyphs" fill="#fff" stroke="#000" stroke-width="1.0">cm</text></mask><text x="-58.39" y="16.45" font-size="47.00" font-weight="bold" textLength="49.82" lengthAdjust="spacingAndGlyphs">18</text><text x="-10.15" y="16.45" font-size="47.00" textLength="68.54" lengthAdjust="spacingAndGlyphs" mask="url(#m20302023)">cm</text></g>
<g transform="translate(741.60,611.10) rotate(-3)" fill="#0d0d0d"><mask id="m28453590" maskUnits="userSpaceOnUse" x="-200" y="-200" width="400" height="400"><text x="-10.74" y="16.45" font-size="47.00" textLength="72.56" lengthAdjust="spacingAndGlyphs" fill="#fff" stroke="#000" stroke-width="1.0">cm</text></mask><text x="-61.82" y="16.45" font-size="47.00" font-weight="bold" textLength="52.74" lengthAdjust="spacingAndGlyphs">60</text><text x="-10.74" y="16.45" font-size="47.00" textLength="72.56" lengthAdjust="spacingAndGlyphs" mask="url(#m28453590)">cm</text></g>
<g transform="translate(945.50,619.60) rotate(14)" fill="#0d0d0d"><mask id="m89132323" maskUnits="userSpaceOnUse" x="-200" y="-200" width="400" height="400"><text x="-10.78" y="16.45" font-size="47.00" textLength="72.80" lengthAdjust="spacingAndGlyphs" fill="#fff" stroke="#000" stroke-width="1.0">cm</text></mask><text x="-62.02" y="16.45" font-size="47.00" font-weight="bold" textLength="52.91" lengthAdjust="spacingAndGlyphs">35</text><text x="-10.78" y="16.45" font-size="47.00" textLength="72.80" lengthAdjust="spacingAndGlyphs" mask="url(#m89132323)">cm</text></g>
<g transform="translate(577.50,825.00) rotate(90)" fill="#0d0d0d"><mask id="m85083759" maskUnits="userSpaceOnUse" x="-200" y="-200" width="400" height="400"><text x="-10.76" y="16.45" font-size="47.00" textLength="72.66" lengthAdjust="spacingAndGlyphs" fill="#fff" stroke="#000" stroke-width="1.0">cm</text></mask><text x="-61.91" y="16.45" font-size="47.00" font-weight="bold" textLength="52.81" lengthAdjust="spacingAndGlyphs">50</text><text x="-10.76" y="16.45" font-size="47.00" textLength="72.66" lengthAdjust="spacingAndGlyphs" mask="url(#m85083759)">cm</text></g>
<g transform="translate(1225.00,157.90) rotate(-28.5)" fill="#0d0d0d"><mask id="m22009709" maskUnits="userSpaceOnUse" x="-200" y="-200" width="400" height="400"><text x="-10.38" y="16.45" font-size="47.00" textLength="70.11" lengthAdjust="spacingAndGlyphs" fill="#fff" stroke="#000" stroke-width="1.0">cm</text></mask><text x="-59.73" y="16.45" font-size="47.00" font-weight="bold" textLength="50.95" lengthAdjust="spacingAndGlyphs">28</text><text x="-10.38" y="16.45" font-size="47.00" textLength="70.11" lengthAdjust="spacingAndGlyphs" mask="url(#m22009709)">cm</text></g>
<g transform="translate(1383.70,177.90) rotate(28.5)" fill="#0d0d0d"><mask id="m52840680" maskUnits="userSpaceOnUse" x="-200" y="-200" width="400" height="400"><text x="-10.64" y="16.45" font-size="47.00" textLength="71.85" lengthAdjust="spacingAndGlyphs" fill="#fff" stroke="#000" stroke-width="1.0">cm</text></mask><text x="-61.22" y="16.45" font-size="47.00" font-weight="bold" textLength="52.22" lengthAdjust="spacingAndGlyphs">21</text><text x="-10.64" y="16.45" font-size="47.00" textLength="71.85" lengthAdjust="spacingAndGlyphs" mask="url(#m52840680)">cm</text></g>
<g transform="translate(1309.40,210.60) rotate(-90)" fill="#0d0d0d"><mask id="m35646947" maskUnits="userSpaceOnUse" x="-200" y="-200" width="400" height="400"><text x="-24.28" y="16.45" font-size="47.00" textLength="73.63" lengthAdjust="spacingAndGlyphs" fill="#fff" stroke="#000" stroke-width="1.0">cm</text></mask><text x="-49.35" y="16.45" font-size="47.00" font-weight="bold" textLength="26.76" lengthAdjust="spacingAndGlyphs">8</text><text x="-24.28" y="16.45" font-size="47.00" textLength="73.63" lengthAdjust="spacingAndGlyphs" mask="url(#m35646947)">cm</text></g>
<g transform="translate(1173.90,458.00) rotate(-21.3)" fill="#0d0d0d"><mask id="m89206595" maskUnits="userSpaceOnUse" x="-200" y="-200" width="400" height="400"><text x="-10.56" y="16.45" font-size="47.00" textLength="71.34" lengthAdjust="spacingAndGlyphs" fill="#fff" stroke="#000" stroke-width="1.0">cm</text></mask><text x="-60.78" y="16.45" font-size="47.00" font-weight="bold" textLength="51.85" lengthAdjust="spacingAndGlyphs">28</text><text x="-10.56" y="16.45" font-size="47.00" textLength="71.34" lengthAdjust="spacingAndGlyphs" mask="url(#m89206595)">cm</text></g>
<g transform="translate(1302.70,468.50) rotate(22.4)" fill="#0d0d0d"><mask id="m96818590" maskUnits="userSpaceOnUse" x="-200" y="-200" width="400" height="400"><text x="-10.04" y="16.45" font-size="47.00" textLength="67.85" lengthAdjust="spacingAndGlyphs" fill="#fff" stroke="#000" stroke-width="1.0">cm</text></mask><text x="-57.81" y="16.45" font-size="47.00" font-weight="bold" textLength="49.31" lengthAdjust="spacingAndGlyphs">16</text><text x="-10.04" y="16.45" font-size="47.00" textLength="67.85" lengthAdjust="spacingAndGlyphs" mask="url(#m96818590)">cm</text></g>
<g transform="translate(1238.90,518.90) rotate(-90)" fill="#0d0d0d"><mask id="m9469501" maskUnits="userSpaceOnUse" x="-200" y="-200" width="400" height="400"><text x="-24.80" y="16.45" font-size="47.00" textLength="75.20" lengthAdjust="spacingAndGlyphs" fill="#fff" stroke="#000" stroke-width="1.0">cm</text></mask><text x="-50.41" y="16.45" font-size="47.00" font-weight="bold" textLength="27.33" lengthAdjust="spacingAndGlyphs">8</text><text x="-24.80" y="16.45" font-size="47.00" textLength="75.20" lengthAdjust="spacingAndGlyphs" mask="url(#m9469501)">cm</text></g>
<g transform="translate(1357.90,546.50) rotate(-30)" fill="#0d0d0d"><mask id="m6645007" maskUnits="userSpaceOnUse" x="-200" y="-200" width="400" height="400"><text x="-10.22" y="16.45" font-size="47.00" textLength="69.01" lengthAdjust="spacingAndGlyphs" fill="#fff" stroke="#000" stroke-width="1.0">cm</text></mask><text x="-58.80" y="16.45" font-size="47.00" font-weight="bold" textLength="50.16" lengthAdjust="spacingAndGlyphs">28</text><text x="-10.22" y="16.45" font-size="47.00" textLength="69.01" lengthAdjust="spacingAndGlyphs" mask="url(#m6645007)">cm</text></g>
<g transform="translate(1473.50,556.50) rotate(24)" fill="#0d0d0d"><mask id="m2292210" maskUnits="userSpaceOnUse" x="-200" y="-200" width="400" height="400"><text x="-10.30" y="16.45" font-size="47.00" textLength="69.57" lengthAdjust="spacingAndGlyphs" fill="#fff" stroke="#000" stroke-width="1.0">cm</text></mask><text x="-59.27" y="16.45" font-size="47.00" font-weight="bold" textLength="50.56" lengthAdjust="spacingAndGlyphs">16</text><text x="-10.30" y="16.45" font-size="47.00" textLength="69.57" lengthAdjust="spacingAndGlyphs" mask="url(#m2292210)">cm</text></g>
<g transform="translate(1402.80,602.30) rotate(-90)" fill="#0d0d0d"><mask id="m49137433" maskUnits="userSpaceOnUse" x="-200" y="-200" width="400" height="400"><text x="-24.54" y="16.45" font-size="47.00" textLength="74.41" lengthAdjust="spacingAndGlyphs" fill="#fff" stroke="#000" stroke-width="1.0">cm</text></mask><text x="-49.88" y="16.45" font-size="47.00" font-weight="bold" textLength="27.04" lengthAdjust="spacingAndGlyphs">8</text><text x="-24.54" y="16.45" font-size="47.00" textLength="74.41" lengthAdjust="spacingAndGlyphs" mask="url(#m49137433)">cm</text></g>
<g transform="translate(1154.10,853.60) rotate(-28.4)" fill="#0d0d0d"><mask id="m9326114" maskUnits="userSpaceOnUse" x="-200" y="-200" width="400" height="400"><text x="-10.72" y="16.45" font-size="47.00" textLength="72.40" lengthAdjust="spacingAndGlyphs" fill="#fff" stroke="#000" stroke-width="1.0">cm</text></mask><text x="-61.68" y="16.45" font-size="47.00" font-weight="bold" textLength="52.62" lengthAdjust="spacingAndGlyphs">28</text><text x="-10.72" y="16.45" font-size="47.00" textLength="72.40" lengthAdjust="spacingAndGlyphs" mask="url(#m9326114)">cm</text></g>
<g transform="translate(1399.00,897.50) rotate(29.2)" fill="#0d0d0d"><mask id="m10697944" maskUnits="userSpaceOnUse" x="-200" y="-200" width="400" height="400"><text x="-10.57" y="16.45" font-size="47.00" textLength="71.43" lengthAdjust="spacingAndGlyphs" fill="#fff" stroke="#000" stroke-width="1.0">cm</text></mask><text x="-60.85" y="16.45" font-size="47.00" font-weight="bold" textLength="51.91" lengthAdjust="spacingAndGlyphs">51</text><text x="-10.57" y="16.45" font-size="47.00" textLength="71.43" lengthAdjust="spacingAndGlyphs" mask="url(#m10697944)">cm</text></g>
<g transform="translate(1286.50,942.10) rotate(-90)" fill="#0d0d0d"><mask id="m62841878" maskUnits="userSpaceOnUse" x="-200" y="-200" width="400" height="400"><text x="-24.41" y="16.45" font-size="47.00" textLength="74.03" lengthAdjust="spacingAndGlyphs" fill="#fff" stroke="#000" stroke-width="1.0">cm</text></mask><text x="-49.62" y="16.45" font-size="47.00" font-weight="bold" textLength="26.90" lengthAdjust="spacingAndGlyphs">8</text><text x="-24.41" y="16.45" font-size="47.00" textLength="74.03" lengthAdjust="spacingAndGlyphs" mask="url(#m62841878)">cm</text></g>
</svg></body></html>
